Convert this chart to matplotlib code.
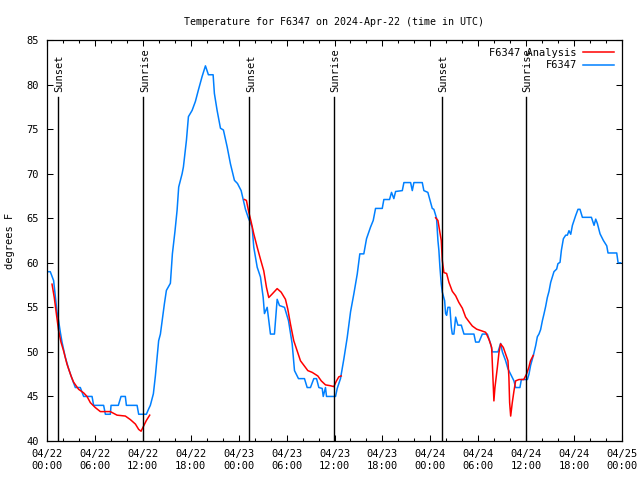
import numpy as np
import matplotlib
matplotlib.use("Agg")
import matplotlib.pyplot as plt
from matplotlib.ticker import MultipleLocator

# ---- data (hours since 2024-04-22 00:00 UTC, degrees F) ----
obs_hours = [0.16, 0.41, 0.83, 1.25, 1.45, 1.67, 1.88, 2.29, 2.71, 3.13, 3.55, 4.17, 4.59, 5.64, 5.84,
             7.09, 7.31, 7.93, 8.02, 8.93, 9.27, 9.81, 9.94, 11.28, 11.48, 12.44, 12.73, 12.94, 13.32,
             13.57, 13.98, 14.20, 14.70, 14.95, 15.45, 15.70, 16.02, 16.29, 16.49, 16.92, 17.08, 17.46,
             17.71, 18.17, 18.58, 18.96, 19.42, 19.84, 20.21, 20.80, 20.96, 21.30, 21.72, 22.09, 22.56,
             22.97, 23.47, 23.85, 24.31, 24.60, 24.85, 25.23, 25.69, 25.89, 26.32, 26.73, 27.07, 27.23,
             27.57, 27.98, 28.48, 28.82, 29.11, 29.74, 30.24, 30.70, 30.99, 31.49, 32.24, 32.58, 32.99,
             33.41, 33.75, 34.04, 34.46, 34.59, 34.87, 35.00, 36.13, 36.34, 36.75, 37.17, 37.59, 38.01,
             38.42, 38.85, 39.17, 39.67, 40.01, 40.51, 40.85, 41.14, 41.98, 42.18, 42.89, 43.14, 43.43,
             43.65, 44.49, 44.69, 45.53, 45.74, 45.94, 46.99, 47.19, 47.69, 48.03, 48.24, 48.44, 48.78,
             48.95, 49.07, 49.20, 49.37, 49.50, 49.79, 49.91, 50.04, 50.20, 50.45, 50.63, 50.75, 50.95,
             51.17, 51.45, 51.88, 52.21, 53.46, 53.67, 54.09, 54.51, 55.14, 55.55, 55.76, 56.47, 56.80,
             57.02, 57.43, 57.72, 58.06, 58.47, 58.68, 59.22, 59.40, 60.15, 60.35, 60.56, 60.90, 61.19,
             61.40, 61.60, 61.81, 62.03, 62.23, 62.44, 62.65, 62.86, 63.07, 63.28, 63.48, 63.82, 63.98,
             64.24, 64.41, 64.66, 64.95, 65.16, 65.36, 65.58, 65.79, 65.99, 66.20, 66.49, 66.74, 67.04,
             68.17, 68.50, 68.71, 68.92, 69.25, 69.67, 70.09, 70.25, 71.34, 71.51, 71.84]
obs_temp = [59, 59, 58, 54.5, 53.5, 52.2, 51.1, 49.4, 48.1, 47, 46, 46, 45, 45, 44,
            44, 43, 43, 44, 44, 45, 45, 44, 44, 43, 43, 43.6, 44, 45.3,
            47.3, 51.25, 52, 55.4, 56.9, 57.7, 61, 63.5, 65.9, 68.5, 70, 70.75, 73.75,
            76.4, 77.1, 78.1, 79.4, 80.9, 82.1, 81.1, 81.1, 79, 77.1, 75.1, 74.9, 73,
            71.1, 69.25, 68.9, 68.1, 67, 66, 65, 64, 61.75, 59.5, 58.4, 56.1, 54.3,
            55, 52, 52, 55.9, 55.2, 55, 53.5, 50.9, 47.9, 47, 47, 46, 46,
            47, 47, 46, 45.9, 45, 46, 45, 45, 45.9, 47, 49.2, 51.6, 54.5,
            56.5, 58.75, 61, 61, 62.7, 64, 64.75, 66.1, 66.1, 67.1, 67.1, 67.9, 67.2,
            68, 68.1, 69, 69, 68.1, 69, 69, 68.1, 67.9, 66.8, 66.1, 66, 65,
            62.5, 61.4, 59.5, 57.6, 56.7, 55.75, 54.3, 54.1, 55, 55, 52.75, 52, 52,
            53.9, 53, 53, 52, 52, 51.1, 51.1, 52, 52, 50.9, 50, 50, 50.95,
            50, 49, 48.1, 47.5, 46.75, 46, 46, 46.9, 46.9, 47.5, 48.5, 49.6, 50.7,
            51.7, 52, 52.5, 53.5, 54.25, 55.1, 56.1, 56.8, 57.8, 58.4, 59, 59.3, 59.9,
            60.05, 61.4, 62.7, 63.1, 63.1, 63.6, 63.2, 64.2, 64.75, 65.3, 66, 66, 65.1,
            65.1, 64.2, 64.9, 64.4, 63.25, 62.5, 61.9, 61.1, 61.1, 60, 60]

ana_hours = [0.63, 0.91, 1.17, 1.45, 1.75, 2.08, 2.51, 3.01, 3.33, 3.96, 4.59, 5.01, 5.43, 6.05, 6.68,
             7.93, 8.77, 9.81, 10.44, 11.07, 11.48, 11.78, 12.11, 12.44, 12.86, np.nan,
             24.72, 24.97, 25.26, 25.56, 25.89, 26.32, 26.73, 27.14, 27.48, 27.77, 28.20, 28.82, 29.32,
             29.86, 30.15, 30.49, 30.90, 31.33, 31.74, 32.16, 32.66, 33.21, 33.91, 34.34, 34.87, 35.50,
             35.92, 36.25, 36.54, 36.84, np.nan,
             48.66, 48.95, 49.20, 49.37, 49.50, 49.70, 50.04, 50.33, 50.75, 51.17, 51.57, 52.01, 52.42,
             52.83, 53.26, 53.80, 54.30, 54.93, 55.34, 55.68, 55.89, 55.96, 56.09, 56.39, 56.59, 56.80,
             57.14, 57.43, 57.72, 57.84, 57.93, 58.06, 58.26, 58.47, 58.68, 59.10, 59.70, 60.04, 60.33,
             60.54, 60.88]
ana_temp = [57.6, 56.1, 54.3, 52.4, 51.1, 50.1, 48.6, 47.3, 46.6, 45.8, 45.4, 45, 44.3, 43.75, 43.3,
            43.3, 42.9, 42.8, 42.4, 41.9, 41.3, 41.1, 41.7, 42.3, 42.9, np.nan,
            67.1, 67, 65.7, 64.6, 63.25, 61.75, 60.4, 59.1, 57.25, 56.1, 56.5, 57.1, 56.7,
            55.9, 54.8, 53.1, 51.25, 50.1, 49, 48.5, 47.9, 47.7, 47.3, 46.75, 46.3, 46.2,
            46.1, 46.75, 47.2, 47.3, np.nan,
            65.05, 64.75, 63.4, 62.5, 60.25, 58.9, 58.8, 57.8, 56.8, 56.3, 55.55, 54.9, 53.9,
            53.4, 52.9, 52.55, 52.4, 52.2, 51.4, 50.5, 46, 44.5, 46, 48.25, 49.9, 50.9,
            50.5, 49.75, 49, 47.1, 44.3, 42.8, 44.3, 45.6, 46.75, 46.9, 46.9, 47.5, 48.25,
            49, 49.6]

event_hours = [1.33, 12.03, 25.35, 35.9, 49.45, 59.97]
event_names = ["Sunset", "Sunrise", "Sunset", "Sunrise", "Sunset", "Sunrise"]

xtick_hours = [0, 6, 12, 18, 24, 30, 36, 42, 48, 54, 60, 66, 72]
xtick_labels = ["04/22\n00:00", "04/22\n06:00", "04/22\n12:00", "04/22\n18:00",
                "04/23\n00:00", "04/23\n06:00", "04/23\n12:00", "04/23\n18:00",
                "04/24\n00:00", "04/24\n06:00", "04/24\n12:00", "04/24\n18:00",
                "04/25\n00:00"]

title = "Temperature for F6347 on 2024-Apr-22 (time in UTC)"

# ---- plot ----
plt.rcParams['font.family'] = ['DejaVu Sans Mono']
plt.rcParams['font.size'] = 7

fig = plt.figure(figsize=(6.4, 4.8), dpi=100)
ax = fig.add_axes([47/640, 1-441/480, (622-47)/640, (441-40)/480])

ax.plot(ana_hours, ana_temp, color='#ff0000', lw=1.1, label='F6347 Analysis', zorder=3)
ax.plot(obs_hours, obs_temp, color='#0080ff', lw=1.1, label='F6347', zorder=2)

for h, name in zip(event_hours, event_names):
    ax.plot([h, h], [40, 78.6], color='black', lw=1.0, zorder=4)
    ax.text(h + 0.22, 79.2, name, rotation=90, ha='center', va='bottom', fontsize=7.5, zorder=5)

ax.set_xlim(0, 72)
ax.set_ylim(40, 85)
ax.set_xticks(xtick_hours)
ax.set_xticklabels(xtick_labels)
ax.xaxis.set_minor_locator(MultipleLocator(2))
ax.yaxis.set_major_locator(MultipleLocator(5))
ax.tick_params(which='both', direction='in', top=True, right=True, width=0.75, labelsize=7.5)
ax.tick_params(which='major', length=4, pad=6)
ax.tick_params(which='minor', length=2.5)
for s in ax.spines.values():
    s.set_linewidth(0.9)

ax.set_ylabel("degrees F", fontsize=7.5, labelpad=8)
ax.set_title(title, fontsize=7.2, pad=11)

leg = ax.legend(loc='upper right', frameon=False, markerfirst=False, fontsize=7.5,
                handlelength=3.0, handletextpad=0.6, borderaxespad=0.35, labelspacing=0.25)
leg.set_zorder(6)

fig.savefig("out.png", dpi=100)
